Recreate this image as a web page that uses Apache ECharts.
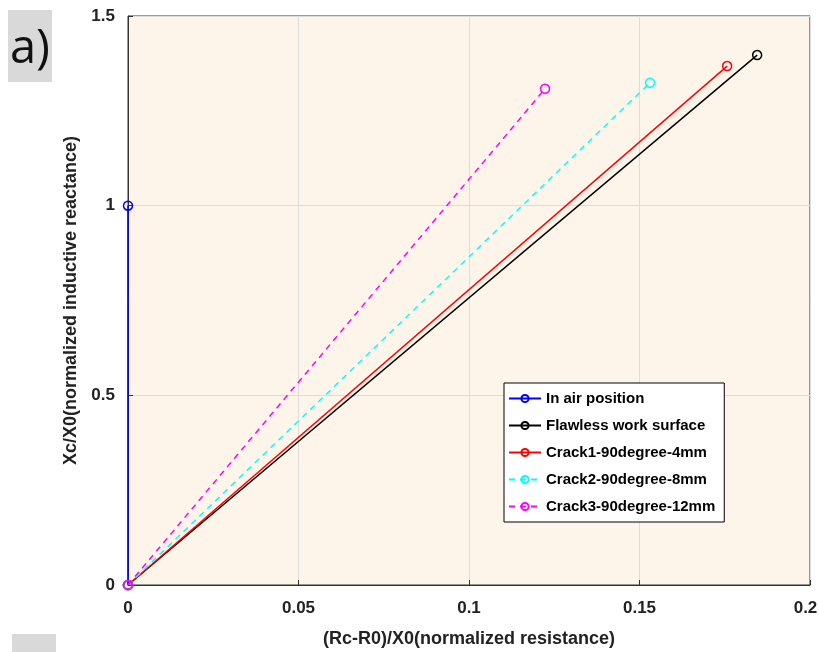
<!DOCTYPE html>
<html>
<head>
<meta charset="utf-8">
<script src="https://cdn.jsdelivr.net/npm/echarts@6/dist/echarts.min.js"></script>
<style>
  html, body { margin: 0; padding: 0; background: #fff; }
  #chart { width: 819px; height: 652px; }
</style>
</head>
<body>
<div id="chart"></div>
<script>
// normalized impedance trajectories: start point and end point of each case
const seriesNames = [
  'In air position',
  'Flawless work surface',
  'Crack1-90degree-4mm',
  'Crack2-90degree-8mm',
  'Crack3-90degree-12mm'
]
const inAir = [[0, 0], [0, 1.0]]
const flawless = [[0, 0], [0.1845, 1.397]]
const crack1 = [[0, 0], [0.1757, 1.368]]
const crack2 = [[0, 0], [0.1531, 1.324]]
const crack3 = [[0, 0], [0.1223, 1.308]]

const xTicks = [0, 0.05, 0.1, 0.15, 0.2]
const yTicks = [0, 0.5, 1, 1.5]

const colors = ['#0000ff', '#000000', '#ff0000', '#00ffff', '#ff00ff']
const dashed = [false, false, false, true, true]
const allData = [inAir, flawless, crack1, crack2, crack3]

const chart = echarts.init(document.getElementById('chart'))

const font = '"Liberation Sans", Arial, sans-serif'

chart.setOption({
  animation: false,
  textStyle: { fontFamily: font },
  graphic: [
    { type: 'rect', left: 8, top: 10, shape: { width: 44, height: 72 }, style: { fill: '#d9d9d9' } },
    { type: 'text', left: 10, top: 26, style: { text: 'a)', font: '47px "Open Sans", sans-serif', fill: '#111' } },
    { type: 'rect', left: 12, top: 634, shape: { width: 44, height: 30 }, style: { fill: '#d9d9d9' } }
  ],
  grid: {
    left: 128, right: 9, top: 16, bottom: 67,
    outerBoundsMode: 'none',
    show: true,
    backgroundColor: '#fdf5ea',
    borderColor: '#333',
    borderWidth: 1
  },
  legend: {
    orient: 'vertical',
    left: 504,
    top: 383,
    backgroundColor: '#fff',
    borderColor: '#000',
    borderWidth: 1,
    padding: [8, 9, 8, 4],
    itemGap: 12,
    itemWidth: 32,
    itemHeight: 9,
    data: seriesNames,
    textStyle: { fontSize: 15, lineHeight: 15, fontWeight: 'bold', color: '#000', fontFamily: font }
  },
  xAxis: {
    type: 'value',
    min: 0,
    max: 0.2,
    interval: 0.05,
    name: '(Rc-R0)/X0(normalized resistance)',
    nameLocation: 'middle',
    nameGap: 45,
    nameTextStyle: { fontSize: 18, fontWeight: 'bold', color: '#222' },
    axisLine: { lineStyle: { color: '#333' } },
    axisTick: { inside: true, length: 5, lineStyle: { color: '#333' } },
    axisLabel: {
      fontSize: 17, fontWeight: 'bold', color: '#222', margin: 15,
      formatter: v => {
        const t = +v.toFixed(2)
        if (!xTicks.includes(t)) return ''
        // last label sits slightly inside the right edge
        return t === 0.2 ? '{last|0.2}' : String(t)
      },
      rich: {
        last: { fontSize: 17, fontWeight: 'bold', color: '#222', padding: [0, 9, 0, 0] }
      }
    },
    splitLine: { show: true, lineStyle: { color: '#dcdcdc' } }
  },
  yAxis: {
    type: 'value',
    min: 0,
    max: 1.5,
    interval: 0.5,
    name: 'Xc/X0(normalized inductive reactance)',
    nameLocation: 'middle',
    nameGap: 48,
    nameTextStyle: { fontSize: 18, fontWeight: 'bold', color: '#222' },
    axisLine: { lineStyle: { color: '#333' } },
    axisTick: { inside: true, length: 5, lineStyle: { color: '#333' } },
    axisLabel: {
      fontSize: 17, fontWeight: 'bold', color: '#222', margin: 13,
      formatter: v => yTicks.includes(+v.toFixed(1)) ? String(+v.toFixed(1)) : ''
    },
    splitLine: { show: true, lineStyle: { color: '#dcdcdc' } }
  },
  series: allData.map((d, i) => ({
    name: seriesNames[i],
    type: 'line',
    data: d,
    symbol: 'circle',
    symbolSize: 9,
    showSymbol: true,
    z: 2 + i,
    lineStyle: {
      color: colors[i],
      width: 1.5,
      type: dashed[i] ? [6, 5] : 'solid'
    },
    itemStyle: {
      color: 'rgba(0,0,0,0)',
      borderColor: colors[i],
      borderWidth: 1.5
    }
  }))
})
</script>
</body>
</html>
